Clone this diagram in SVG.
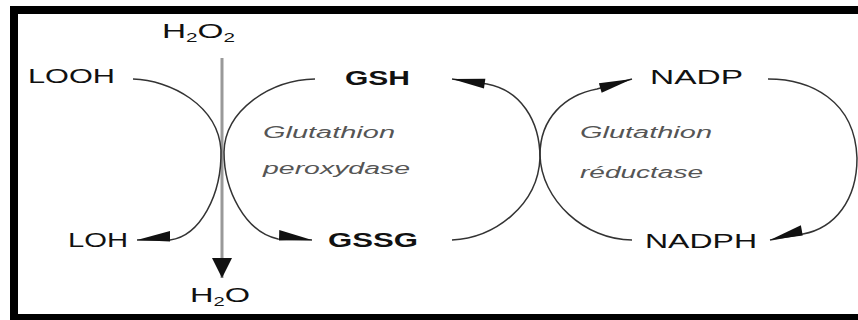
<svg xmlns="http://www.w3.org/2000/svg" width="858" height="320" viewBox="0 0 858 320">
<style>
.lbl{font-family:"Liberation Sans",Arial,sans-serif;font-size:21px;fill:#111}
.b{font-weight:bold}
.enz{font-family:"Liberation Sans",Arial,sans-serif;font-size:16px;font-style:italic;fill:#555}
.sub{font-size:13px}
.cur{fill:none;stroke:#333;stroke-width:1.5}
.h2o2{fill:none;stroke:#999;stroke-width:3}
</style>
<defs>
<marker id="wedge" markerUnits="userSpaceOnUse" markerWidth="40" markerHeight="14" viewBox="-34 -7 36 14" refX="0" refY="0" orient="auto">
<path d="M0,0 L-33,-5 L-33,5 Z" fill="#111"/>
</marker>
<marker id="wedgeR" markerUnits="userSpaceOnUse" markerWidth="40" markerHeight="16" viewBox="-34 -11 36 16" refX="0" refY="0" orient="auto">
<path d="M0,0 L-33,-9 L-33,1.5 Z" fill="#111"/>
</marker>
<marker id="wedgeL" markerUnits="userSpaceOnUse" markerWidth="40" markerHeight="16" viewBox="-34 -5 36 16" refX="0" refY="0" orient="auto">
<path d="M0,0 L-33,9 L-33,-1.5 Z" fill="#111"/>
</marker>
<marker id="tri" markerUnits="userSpaceOnUse" markerWidth="24" markerHeight="24" viewBox="-22 -12 24 24" refX="0" refY="0" orient="auto">
<path d="M0,0 L-20,-10 L-20,10 Z" fill="#111"/>
</marker>
</defs>
<rect x="0" y="0" width="858" height="320" fill="#fff"/>
<g id="frame" fill="#000">
<rect x="10" y="6" width="848" height="8"/>
<rect x="10" y="6" width="8" height="314"/>
<rect x="10" y="314" width="848" height="6"/>
</g>
<g id="connectors">
<path class="h2o2" d="M222,58 L222,278" marker-end="url(#tri)"/>
<path class="cur" d="M133,79 C170,80 218,105 221,150 C222,195 200,236 170,240 L137,240" marker-end="url(#wedgeL)"/>
<path class="cur" d="M315,79 C270,80 225,110 224,152 C224,190 245,232 278,239 L312,240" marker-end="url(#wedgeR)"/>
<path class="cur" d="M452,240 C495,238 538,205 540,158 C540,120 520,90 487,84 L452,79" marker-end="url(#wedge)"/>
<path class="cur" d="M632,240 C585,240 541,200 540,155 C540,118 565,95 597,89 L632,79" marker-end="url(#wedge)"/>
<path class="cur" d="M768,79 C810,79 855,100 857,158 C857,200 835,228 803,234 L770,240" marker-end="url(#wedgeL)"/>
</g>
<g id="h2o2"><text class="lbl" x="162" y="38" textLength="73" lengthAdjust="spacingAndGlyphs">H<tspan class="sub" dy="4">2</tspan><tspan dy="-4">O</tspan><tspan class="sub" dy="4">2</tspan></text></g>
<g id="h2o"><text class="lbl" x="190" y="302" textLength="60" lengthAdjust="spacingAndGlyphs">H<tspan class="sub" dy="4">2</tspan><tspan dy="-4">O</tspan></text></g>
<g id="looh"><text class="lbl" x="28" y="83" textLength="87" lengthAdjust="spacingAndGlyphs">LOOH</text></g>
<g id="loh"><text class="lbl" x="68" y="247" textLength="60" lengthAdjust="spacingAndGlyphs">LOH</text></g>
<g id="gsh"><text class="lbl b" x="345" y="85" textLength="65" lengthAdjust="spacingAndGlyphs">GSH</text></g>
<g id="gssg"><text class="lbl b" x="328" y="247" textLength="90" lengthAdjust="spacingAndGlyphs">GSSG</text></g>
<g id="nadp"><text class="lbl" x="650" y="84" textLength="93" lengthAdjust="spacingAndGlyphs">NADP</text></g>
<g id="nadph"><text class="lbl" x="645" y="248" textLength="112" lengthAdjust="spacingAndGlyphs">NADPH</text></g>
<g id="gpx">
<text class="enz" x="263" y="138" textLength="132" lengthAdjust="spacingAndGlyphs">Glutathion</text>
<text class="enz" x="263" y="174" textLength="147" lengthAdjust="spacingAndGlyphs">peroxydase</text>
</g>
<g id="gr">
<text class="enz" x="580" y="138" textLength="132" lengthAdjust="spacingAndGlyphs">Glutathion</text>
<text class="enz" x="580" y="178" textLength="123" lengthAdjust="spacingAndGlyphs">réductase</text>
</g>
</svg>
